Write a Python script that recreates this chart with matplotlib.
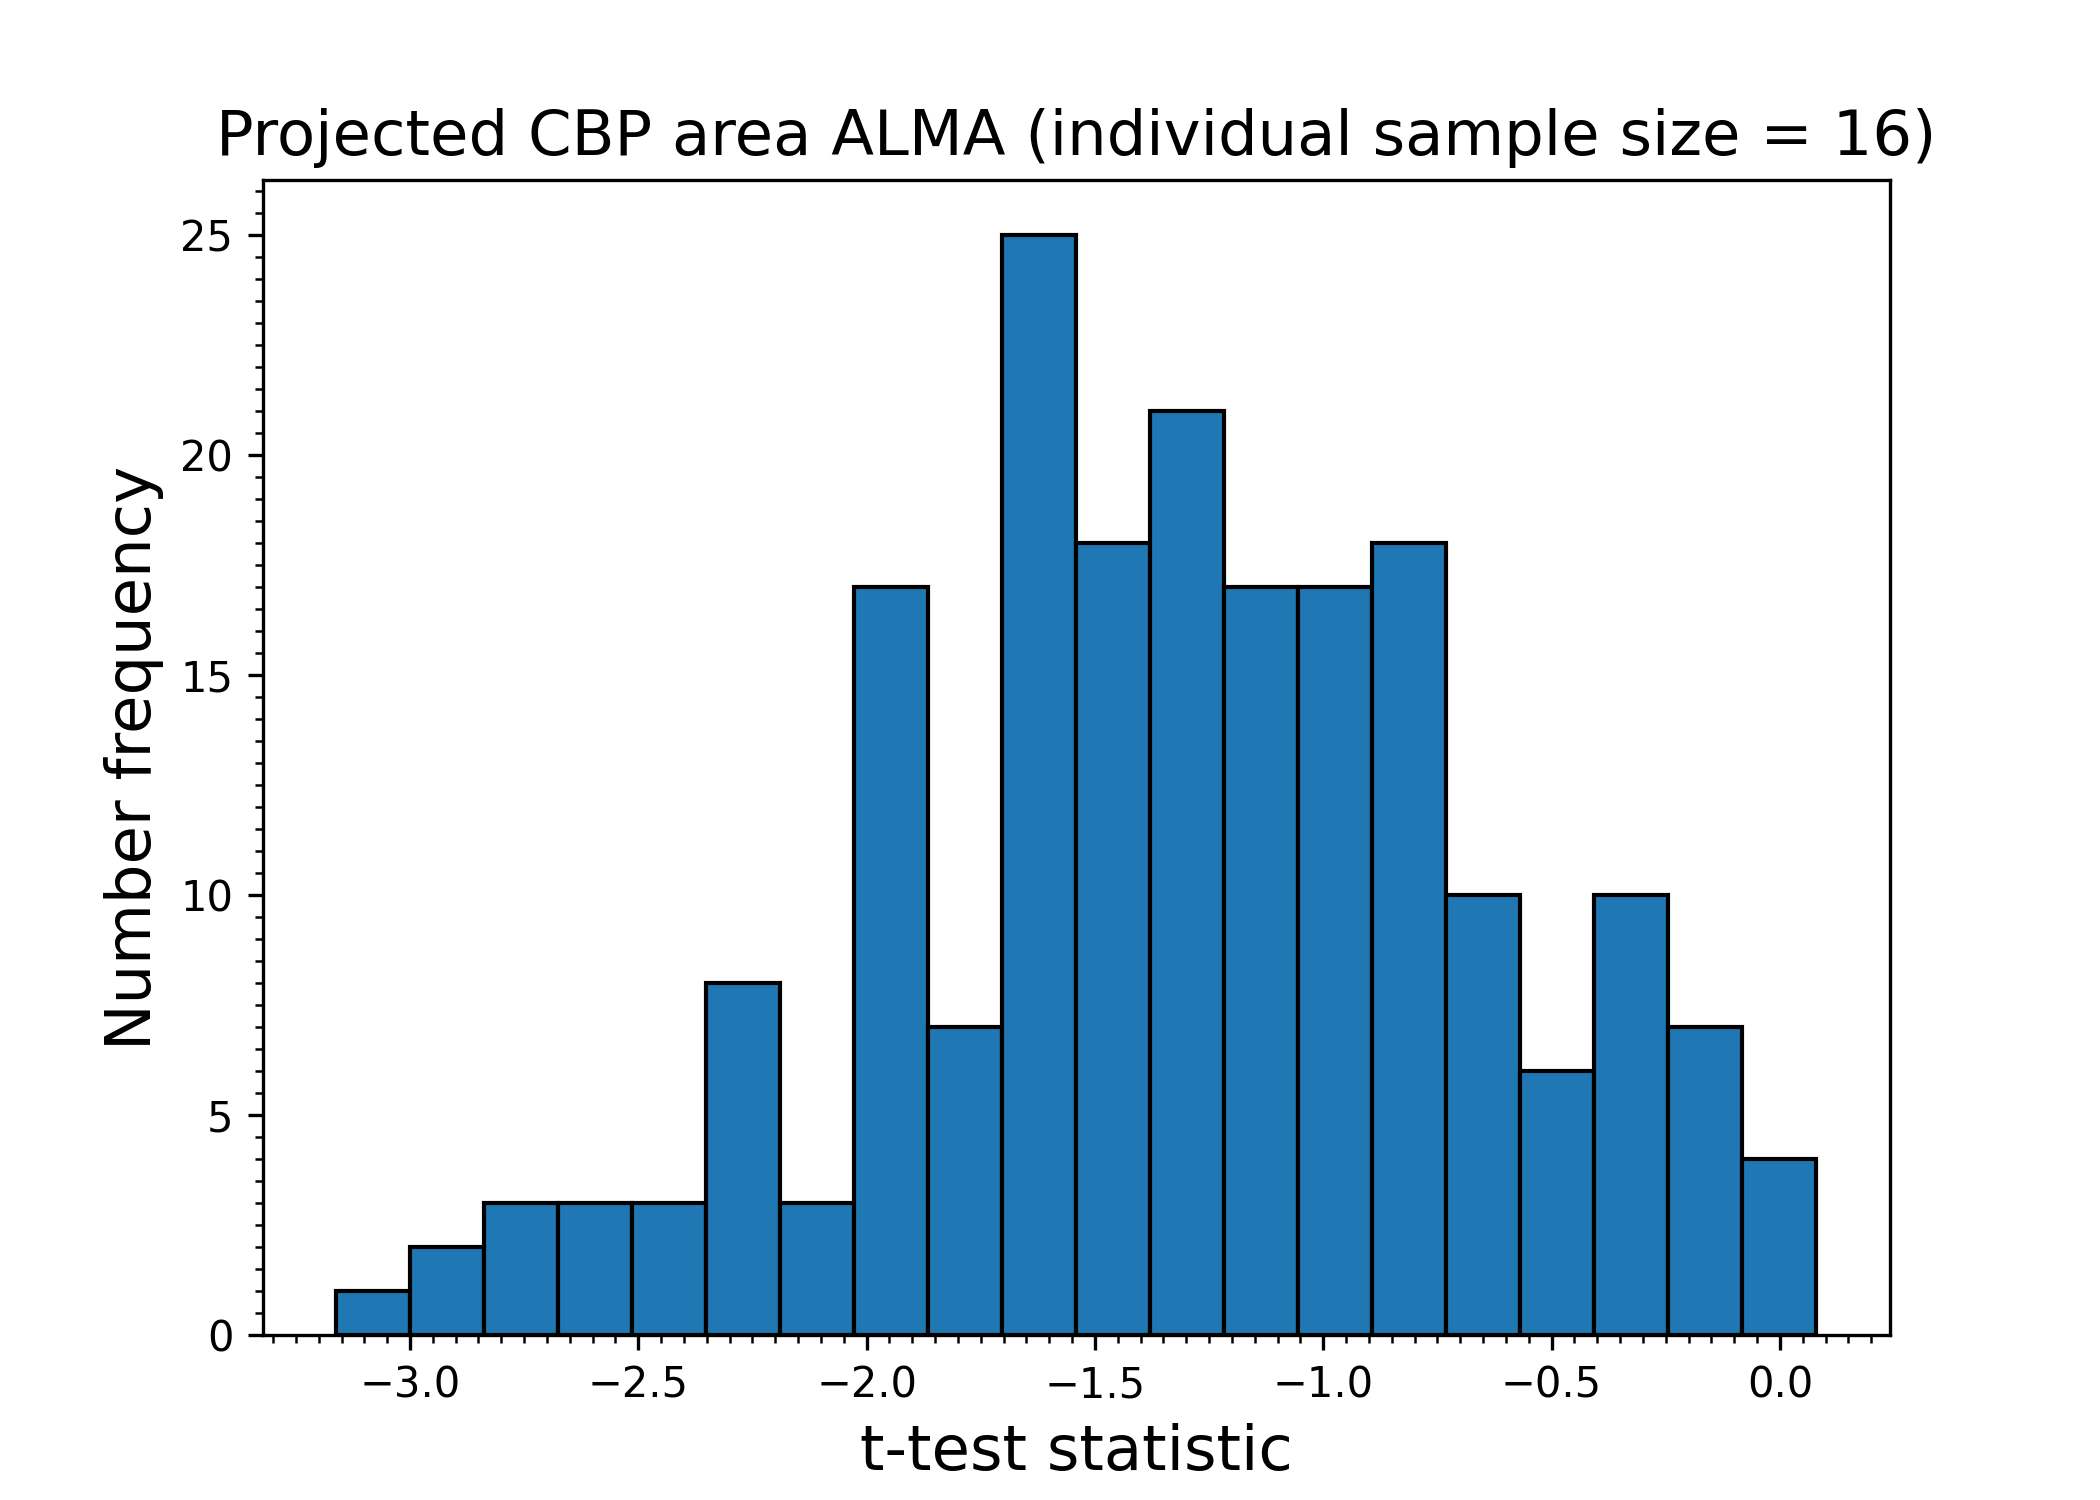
import matplotlib
matplotlib.use("Agg")
import matplotlib.pyplot as plt
import numpy as np
from matplotlib.ticker import MultipleLocator

bin_start = -3.161
bin_width = 0.162
counts = [1, 2, 3, 3, 3, 8, 3, 17, 7, 25, 18, 21, 17, 17, 18, 10, 6, 10, 7, 4]

edges = bin_start + bin_width * np.arange(len(counts) + 1)
centers = (edges[:-1] + edges[1:]) / 2

fig, ax = plt.subplots(figsize=(7, 5), dpi=300)
ax.hist(centers, bins=edges, weights=counts, color="#1f77b4", edgecolor="black", linewidth=1.0)
ax.set_title("Projected CBP area ALMA (individual sample size = 16)", fontsize=15)
ax.set_xlabel("t-test statistic", fontsize=15)
ax.set_ylabel("Number frequency", fontsize=15)
ax.xaxis.set_minor_locator(MultipleLocator(0.05))
ax.yaxis.set_minor_locator(MultipleLocator(0.5))
fig.savefig("out.png", dpi=300)
